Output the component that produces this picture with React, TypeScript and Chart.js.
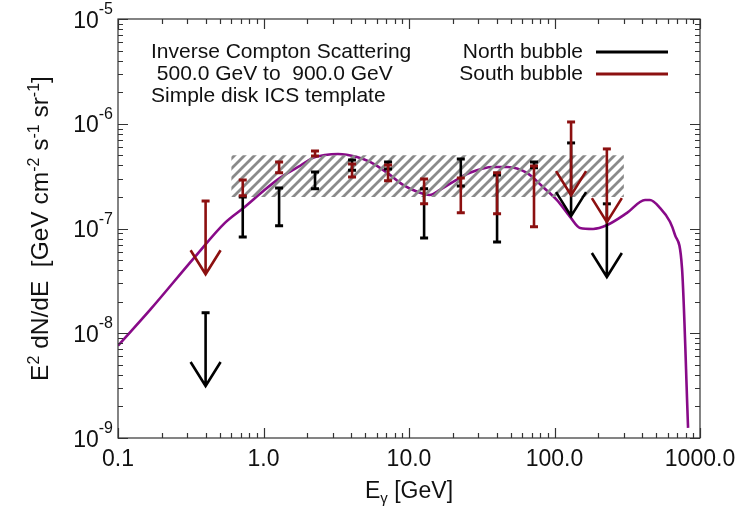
import { useEffect, useRef } from 'react';
import { Chart, registerables } from 'chart.js';

Chart.register(...registerables);

// Energy bins (GeV) shared by both bubbles
const energyGeV = [0.40, 0.72, 1.28, 2.26, 4.06, 7.18, 12.7, 22.7, 40.3, 72.3, 130, 229];

// North bubble: measured ranges (null where only an upper limit exists)
const northHigh = [null, 2.0e-7, 2.44e-7, 3.47e-7, 4.5e-7, 4.32e-7, 2.39e-7, 4.61e-7, 3.25e-7, 4.32e-7, null, null];
const northLow = [null, 8.3e-8, 1.06e-7, 2.39e-7, 3.6e-7, 3.7e-7, 8.1e-8, 2.55e-7, 7.45e-8, 3.8e-7, null, null];
const northUpper = [1.57e-8, null, null, null, null, null, null, null, null, null, 6.56e-7, 1.72e-7];

// South bubble
const southHigh = [null, 2.91e-7, 4.32e-7, 5.5e-7, 4.13e-7, 4.04e-7, 2.97e-7, 3.04e-7, 3.4e-7, 3.96e-7, null, null];
const southLow = [null, 2.05e-7, 3.4e-7, 4.93e-7, 3.11e-7, 2.85e-7, 1.72e-7, 1.41e-7, 1.38e-7, 1.04e-7, null, null];
const southUpper = [1.83e-7, null, null, null, null, null, null, null, null, null, 1.04e-6, 5.75e-7];

// Upper-limit arrows point down to limit / 5
const arrowFactor = 5;

// Simple disk ICS template spectrum
const modelEnergy = [0.1, 0.166, 0.338, 0.543, 0.746, 1.02, 1.3, 1.73, 2.19, 2.65, 3.25, 4.39, 5.4, 6.32, 7.4, 9.1, 11.4, 13.9, 16.3, 20.1, 26.2, 37.8, 47.2, 64.7, 83.4, 104, 122, 128, 150, 184, 230, 315, 419, 453, 531, 622, 673, 752, 828];
const modelFlux = [7.6e-9, 1.67e-8, 5.36e-8, 1.13e-7, 1.61e-7, 2.34e-7, 3.04e-7, 3.87e-7, 4.72e-7, 5.04e-7, 5.15e-7, 4.82e-7, 4.32e-7, 3.79e-7, 3.25e-7, 2.61e-7, 2.24e-7, 2.09e-7, 2.34e-7, 2.79e-7, 3.4e-7, 3.87e-7, 3.87e-7, 3.4e-7, 2.49e-7, 1.87e-7, 1.41e-7, 1.29e-7, 1.01e-7, 9.9e-8, 1.08e-7, 1.41e-7, 1.87e-7, 1.87e-7, 1.57e-7, 1.16e-7, 8.7e-8, 4.2e-8, 1.25e-9];

// Hatched band
const bandEnergy = [0.6, 300];
const bandLow = [2e-7, 2e-7];
const bandHigh = [5e-7, 5e-7];

// Axis ticks
const xTickValues = [0.1, 1, 10, 100, 1000];
const xTickLabels = ['0.1', '1.0', '10.0', '100.0', '1000.0'];
const yTickExponents = [-9, -8, -7, -6, -5];

// Annotation and legend text
const infoLines = ['Inverse Compton Scattering', ' 500.0 GeV to  900.0 GeV', 'Simple disk ICS template'];
const legendNames = ['North bubble', 'South bubble'];

const NORTH = '#000000';
const SOUTH = '#8c1010';
const PURPLE = '#880a88';
const FONT = '"Liberation Sans", Arial, Helvetica, sans-serif';

function makeHatch(): CanvasPattern | string {
  const c = document.createElement('canvas');
  c.width = 10;
  c.height = 10;
  const g = c.getContext('2d');
  if (!g) return '#999';
  g.strokeStyle = '#8a8a8a';
  g.lineWidth = 2.8;
  g.beginPath();
  g.moveTo(-5, 5); g.lineTo(5, -5);
  g.moveTo(0, 10); g.lineTo(10, 0);
  g.moveTo(5, 15); g.lineTo(15, 5);
  g.stroke();
  return g.createPattern(c, 'repeat') || '#999';
}

function drawBar(ctx: CanvasRenderingContext2D, x: number, y1: number, y2: number, color: string) {
  ctx.strokeStyle = color;
  ctx.lineWidth = 2.6;
  ctx.beginPath();
  ctx.moveTo(x, y1); ctx.lineTo(x, y2);
  ctx.stroke();
  ctx.lineWidth = 3;
  ctx.beginPath();
  ctx.moveTo(x - 4, y1); ctx.lineTo(x + 4, y1);
  ctx.moveTo(x - 4, y2); ctx.lineTo(x + 4, y2);
  ctx.stroke();
}

function drawLimit(ctx: CanvasRenderingContext2D, x: number, yTop: number, yTip: number, color: string) {
  ctx.strokeStyle = color;
  ctx.lineWidth = 2.6;
  ctx.beginPath();
  ctx.moveTo(x, yTop); ctx.lineTo(x, yTip);
  ctx.moveTo(x - 15, yTip - 24); ctx.lineTo(x, yTip); ctx.lineTo(x + 15, yTip - 24);
  ctx.stroke();
  ctx.lineWidth = 3;
  ctx.beginPath();
  ctx.moveTo(x - 4, yTop); ctx.lineTo(x + 4, yTop);
  ctx.stroke();
}

const errorBarsPlugin = {
  id: 'errorBars',
  afterDatasetsDraw(chart: any) {
    const { ctx, scales } = chart;
    const xs = scales.x;
    const ys = scales.y;
    ctx.save();
    ctx.lineCap = 'butt';
    ctx.lineJoin = 'miter';
    const series = [
      { hi: northHigh, lo: northLow, ul: northUpper, color: NORTH },
      { hi: southHigh, lo: southLow, ul: southUpper, color: SOUTH },
    ];
    for (const s of series) {
      energyGeV.forEach((e, i) => {
        const x = xs.getPixelForValue(e);
        const hi = s.hi[i];
        const lo = s.lo[i];
        const ul = s.ul[i];
        if (hi != null && lo != null) {
          drawBar(ctx, x, ys.getPixelForValue(hi), ys.getPixelForValue(lo), s.color);
        }
        if (ul != null) {
          drawLimit(ctx, x, ys.getPixelForValue(ul), ys.getPixelForValue(ul / arrowFactor), s.color);
        }
      });
    }
    ctx.restore();
  },
};

function drawRuns(ctx: CanvasRenderingContext2D, runs: { t: string; k: number }[], cx: number, baseY: number, big: number, small: number) {
  const widths = runs.map((r) => {
    ctx.font = `${r.k === 0 ? big : small}px ${FONT}`;
    return ctx.measureText(r.t).width;
  });
  const total = widths.reduce((a, b) => a + b, 0);
  let x = cx - total / 2;
  runs.forEach((r, i) => {
    ctx.font = `${r.k === 0 ? big : small}px ${FONT}`;
    const dy = r.k === 1 ? -9 : r.k === -1 ? 5 : 0;
    ctx.fillText(r.t, x, baseY + dy);
    x += widths[i];
  });
}

const axesPlugin = {
  id: 'axesText',
  afterDraw(chart: any) {
    const { ctx, chartArea, scales } = chart;
    const xs = scales.x;
    const ys = scales.y;
    const { left, right, top, bottom } = chartArea;
    ctx.save();
    ctx.strokeStyle = '#333';
    ctx.lineWidth = 1.2;
    ctx.strokeRect(left, top, right - left, bottom - top);

    // tick marks on all four sides
    ctx.beginPath();
    for (let d = -1; d < 3; d++) {
      for (let k = 1; k <= 10; k++) {
        const v = k * Math.pow(10, d);
        const px = Math.round(xs.getPixelForValue(v)) + 0.5;
        const len = k === 1 || k === 10 ? 10 : 5;
        ctx.moveTo(px, bottom); ctx.lineTo(px, bottom - len);
        ctx.moveTo(px, top); ctx.lineTo(px, top + len);
      }
    }
    for (let d = -9; d < -5; d++) {
      for (let k = 1; k <= 10; k++) {
        const v = k * Math.pow(10, d);
        const py = Math.round(ys.getPixelForValue(v)) + 0.5;
        const len = k === 1 || k === 10 ? 10 : 5;
        ctx.moveTo(left, py); ctx.lineTo(left + len, py);
        ctx.moveTo(right, py); ctx.lineTo(right - len, py);
      }
    }
    ctx.stroke();

    ctx.fillStyle = '#111';
    ctx.textBaseline = 'alphabetic';

    // x tick labels
    ctx.font = `23px ${FONT}`;
    ctx.textAlign = 'center';
    xTickValues.forEach((v, i) => {
      ctx.fillText(xTickLabels[i], xs.getPixelForValue(v), bottom + 28);
    });

    // y tick labels with exponent
    yTickExponents.forEach((p) => {
      const py = ys.getPixelForValue(Math.pow(10, p));
      const exp = String(p);
      ctx.font = `16px ${FONT}`;
      const ew = ctx.measureText(exp).width;
      ctx.textAlign = 'left';
      ctx.fillText(exp, left - 5 - ew, py - 5);
      ctx.font = `23px ${FONT}`;
      ctx.textAlign = 'right';
      ctx.fillText('10', left - 5 - ew, py + 8.5);
    });

    // axis titles
    ctx.textAlign = 'left';
    drawRuns(ctx, [{ t: 'E', k: 0 }, { t: 'γ', k: -1 }, { t: ' [GeV]', k: 0 }], (left + right) / 2, bottom + 60, 23, 15);

    ctx.save();
    ctx.translate(48, (top + bottom) / 2);
    ctx.rotate(-Math.PI / 2);
    drawRuns(ctx, [
      { t: 'E', k: 0 }, { t: '2', k: 1 }, { t: ' dN/dE  [GeV cm', k: 0 }, { t: '-2', k: 1 },
      { t: ' s', k: 0 }, { t: '-1', k: 1 }, { t: ' sr', k: 0 }, { t: '-1', k: 1 }, { t: ']', k: 0 },
    ], 0, 0, 24.5, 16);
    ctx.restore();

    // annotation block
    ctx.font = `21px ${FONT}`;
    ctx.textAlign = 'left';
    infoLines.forEach((t, i) => ctx.fillText(t, left + 33, top + 39 + i * 22));

    // legend
    const colors = [NORTH, SOUTH];
    legendNames.forEach((name, i) => {
      const y = top + 39 + i * 22;
      ctx.textAlign = 'right';
      ctx.fillStyle = '#111';
      ctx.fillText(name, left + 465, y);
      ctx.strokeStyle = colors[i];
      ctx.lineWidth = 3;
      ctx.beginPath();
      ctx.moveTo(left + 478, y - 6);
      ctx.lineTo(left + 550, y - 6);
      ctx.stroke();
    });
    ctx.restore();
  },
};

export default function App() {
  const ref = useRef<HTMLCanvasElement | null>(null);

  useEffect(() => {
    const canvas = ref.current;
    if (!canvas) return;
    const hatch = makeHatch();
    const chart = new Chart(canvas, {
      type: 'line',
      data: {
        datasets: [
          {
            label: 'band upper',
            data: bandEnergy.map((e, i) => ({ x: e, y: bandHigh[i] })),
            borderColor: 'rgba(0,0,0,0)',
            borderWidth: 1,
            pointRadius: 0,
            fill: '+1',
            backgroundColor: hatch as any,
          },
          {
            label: 'band lower',
            data: bandEnergy.map((e, i) => ({ x: e, y: bandLow[i] })),
            borderColor: 'rgba(0,0,0,0)',
            borderWidth: 1,
            pointRadius: 0,
            fill: false,
          },
          {
            label: 'Simple disk ICS template',
            data: modelEnergy.map((e, i) => ({ x: e, y: modelFlux[i] })),
            borderColor: PURPLE,
            borderWidth: 2.6,
            pointRadius: 0,
            cubicInterpolationMode: 'monotone',
            fill: false,
          },
        ],
      },
      options: {
        responsive: false,
        animation: false,
        devicePixelRatio: 1,
        events: [],
        layout: { padding: { left: 118, right: 47, top: 19, bottom: 68 } },
        plugins: { legend: { display: false }, tooltip: { enabled: false } },
        scales: {
          x: { type: 'logarithmic', min: 0.1, max: 1000, display: false },
          y: { type: 'logarithmic', min: 1e-9, max: 1e-5, display: false },
        },
      },
      plugins: [errorBarsPlugin, axesPlugin],
    } as any);
    return () => chart.destroy();
  }, []);

  return (
    <div style={{ position: 'absolute', left: 0, top: 0, width: 747, height: 506, background: '#fff' }}>
      <canvas ref={ref} width={747} height={506} style={{ display: 'block' }} />
    </div>
  );
}
